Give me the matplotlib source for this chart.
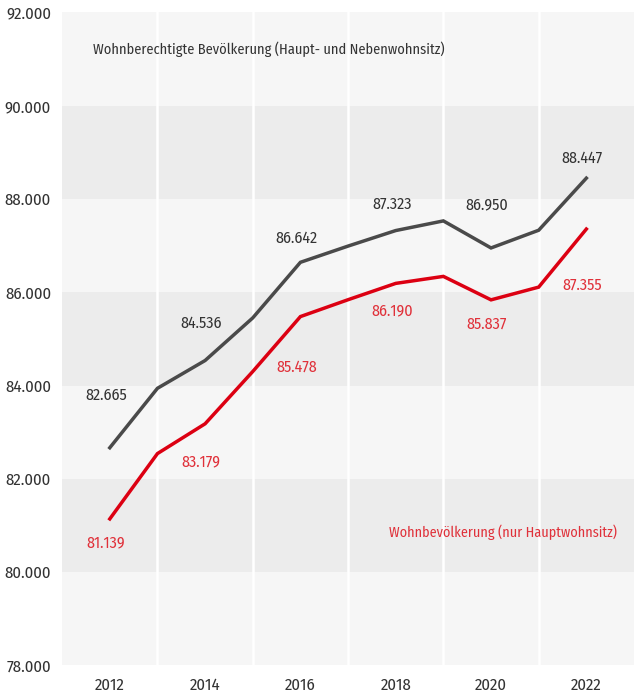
import matplotlib.pyplot as plt

years = list(range(2012, 2023))
# Wohnberechtigte Bevoelkerung (Haupt- und Nebenwohnsitz), in Tausend
total = [82.665, 83.94, 84.536, 85.45, 86.642, 86.99, 87.323, 87.53, 86.950, 87.33, 88.447]
# Wohnbevoelkerung (nur Hauptwohnsitz), in Tausend
main = [81.139, 82.54, 83.179, 84.30, 85.478, 85.84, 86.190, 86.34, 85.837, 86.11, 87.355]

label_years = [2012, 2014, 2016, 2018, 2020, 2022]
total_labels = ["82.665", "84.536", "86.642", "87.323", "86.950", "88.447"]
main_labels = ["81.139", "83.179", "85.478", "86.190", "85.837", "87.355"]
yticks = [78, 80, 82, 84, 86, 88, 90, 92]
ytick_labels = ["78.000", "80.000", "82.000", "84.000", "86.000", "88.000", "90.000", "92.000"]

# pixel offsets of the value labels (above / below the line)
total_off = [52, 37, 24, 27, 43, 20]
main_off = [-24, -38, -50, -27, -24, -56]

plt.rcParams['font.family'] = ['Fira Sans Condensed', 'DejaVu Sans']

GRAY = '#4a4a4a'
RED = '#dc0012'
RED_TXT = '#e0313a'

fig = plt.figure(figsize=(6.34, 6.93), dpi=100)
ax = fig.add_axes([0.098, 0.040, 0.902, 0.942])
ax.set_xlim(2011, 2023)
ax.set_ylim(78, 92)

# horizontal bands
for i in range(len(yticks) - 1):
    c = '#ececec' if i % 2 == 1 else '#f6f6f6'
    ax.axhspan(yticks[i], yticks[i + 1], color=c, lw=0, zorder=0)
for x in range(2013, 2023, 2):
    ax.axvline(x, color='white', lw=1.8, zorder=1)

ax.plot(years, total, color=GRAY, lw=2.5, zorder=3, solid_joinstyle='miter')
ax.plot(years, main, color=RED, lw=2.5, zorder=3, solid_joinstyle='miter')

for yr, lab, off in zip(label_years, total_labels, total_off):
    ax.annotate(lab, (yr, total[years.index(yr)]), xytext=(-4, off),
                textcoords='offset pixels', ha='center', va='center',
                fontsize=11.5, color='#333333')
for yr, lab, off in zip(label_years, main_labels, main_off):
    ax.annotate(lab, (yr, main[years.index(yr)]), xytext=(-4, off),
                textcoords='offset pixels', ha='center', va='center',
                fontsize=11.5, color=RED_TXT)

ax.text(2011.65, 91.22, "Wohnberechtigte Bevölkerung (Haupt- und Nebenwohnsitz)",
        fontsize=10.3, color='#333333', va='center', ha='left')
ax.text(2017.85, 80.85, "Wohnbevölkerung (nur Hauptwohnsitz)",
        fontsize=10.2, color=RED_TXT, va='center', ha='left')

ax.set_xticks(label_years)
ax.set_xticklabels([str(y) for y in label_years])
ax.set_yticks(yticks)
ax.set_yticklabels(ytick_labels)
ax.tick_params(length=0, labelsize=12, colors='#333333')
ax.tick_params(axis='y', pad=8)
ax.tick_params(axis='x', pad=9)
for s in ax.spines.values():
    s.set_visible(False)

fig.savefig('out.png', dpi=100, facecolor='white')
